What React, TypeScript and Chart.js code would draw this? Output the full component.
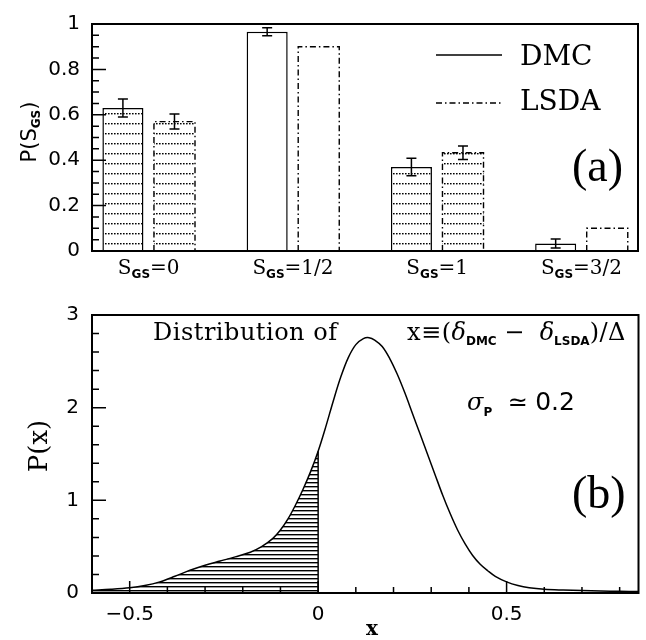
import React, { useEffect, useRef } from 'react';
import { Chart, registerables } from 'chart.js';

Chart.register(...registerables);

// ---------- Panel (a) data ----------
const SPIN_LABELS = ['0', '1/2', '1', '3/2'];
const SPIN_X = [0, 1, 2, 3];
const DMC_P = [0.63, 0.966, 0.37, 0.033];
const DMC_ERR = [0.04, 0.018, 0.039, 0.02];
const LSDA_P = [0.57, 0.9, 0.433, 0.1];
const LSDA_ERR: (number | null)[] = [0.033, null, 0.03, null];
const HATCHED = [true, false, true, false];
const A_Y_TICKS = [0, 0.2, 0.4, 0.6, 0.8, 1];
const A_Y_MINOR = [0.05, 0.1, 0.15, 0.25, 0.3, 0.35, 0.45, 0.5, 0.55, 0.65, 0.7, 0.75, 0.85, 0.9, 0.95];

// ---------- Panel (b) data ----------
const DIST_X = [-0.6, -0.55, -0.5, -0.46, -0.42, -0.38, -0.34, -0.3, -0.26, -0.22, -0.18, -0.15, -0.12, -0.1, -0.08, -0.06, -0.04, -0.02, 0, 0.02, 0.04, 0.06, 0.08, 0.1, 0.12, 0.135, 0.15, 0.17, 0.19, 0.21, 0.23, 0.25, 0.27, 0.29, 0.31, 0.33, 0.35, 0.37, 0.39, 0.41, 0.43, 0.45, 0.47, 0.5, 0.53, 0.56, 0.6, 0.65, 0.7, 0.75, 0.8, 0.85];
const DIST_Y = [0.03, 0.04, 0.056, 0.08, 0.12, 0.18, 0.245, 0.3, 0.345, 0.39, 0.44, 0.5, 0.59, 0.68, 0.8, 0.95, 1.12, 1.31, 1.53, 1.79, 2.07, 2.33, 2.54, 2.68, 2.745, 2.755, 2.73, 2.66, 2.53, 2.36, 2.16, 1.94, 1.72, 1.5, 1.28, 1.06, 0.86, 0.68, 0.53, 0.405, 0.31, 0.24, 0.18, 0.12, 0.08, 0.056, 0.04, 0.032, 0.027, 0.022, 0.018, 0.015];
const B_X_TICKS = [-0.5, 0, 0.5];
const B_X_MINOR = [-0.6, -0.4, -0.3, -0.2, -0.1, 0.1, 0.2, 0.3, 0.4, 0.6, 0.7, 0.8];
const B_Y_TICKS = [0, 1, 2, 3];
const B_Y_MINOR = [0.2, 0.4, 0.6, 0.8, 1.2, 1.4, 1.6, 1.8, 2.2, 2.4, 2.6, 2.8];

const SERIF = 'DejaVu Serif';
const SANS = 'DejaVu Sans';
const SUB = `bold 12px ${SANS}`;

type Part = { t: string; f: string; dy?: number; ls?: string };

function drawRich(ctx: CanvasRenderingContext2D, parts: Part[], x: number, y: number, align: 'left' | 'center' | 'right') {
  ctx.save();
  ctx.textBaseline = 'alphabetic';
  ctx.textAlign = 'left';
  ctx.fillStyle = '#000';
  const widths = parts.map((p) => {
    ctx.font = p.f;
    (ctx as any).letterSpacing = p.ls || '0px';
    return ctx.measureText(p.t).width;
  });
  const total = widths.reduce((a, b) => a + b, 0);
  let cx = align === 'left' ? x : align === 'center' ? x - total / 2 : x - total;
  parts.forEach((p, i) => {
    ctx.font = p.f;
    (ctx as any).letterSpacing = p.ls || '0px';
    ctx.fillText(p.t, cx, y + (p.dy || 0));
    cx += widths[i];
  });
  ctx.restore();
}

function makeDotPattern(): CanvasPattern | string {
  const c = document.createElement('canvas');
  c.width = 3;
  c.height = 10;
  const g = c.getContext('2d')!;
  g.fillStyle = '#fff';
  g.fillRect(0, 0, 3, 10);
  g.fillStyle = '#000';
  g.fillRect(0, 3, 1.6, 1.4);
  return g.createPattern(c, 'repeat') || '#fff';
}

function makeLinePattern(): CanvasPattern | string {
  const c = document.createElement('canvas');
  c.width = 4;
  c.height = 4;
  const g = c.getContext('2d')!;
  g.fillStyle = '#000';
  g.fillRect(0, 0, 4, 1.4);
  return g.createPattern(c, 'repeat') || '#000';
}

const DASHDOT = [6, 3, 1.5, 3];

const panelAPlugin = {
  id: 'panelA',
  afterDatasetsDraw(chart: any) {
    const ctx: CanvasRenderingContext2D = chart.ctx;
    const ys = chart.scales.y;
    ctx.save();
    ctx.strokeStyle = '#000';
    ctx.lineWidth = 1.4;
    ctx.setLineDash(DASHDOT);
    chart.getDatasetMeta(1).data.forEach((el: any) => {
      const p = el.getProps(['x', 'y', 'base', 'width'], true);
      const l = p.x - p.width / 2;
      const r = p.x + p.width / 2;
      ctx.beginPath();
      ctx.moveTo(l, p.base);
      ctx.lineTo(l, p.y);
      ctx.lineTo(r, p.y);
      ctx.lineTo(r, p.base);
      ctx.stroke();
    });
    ctx.setLineDash([]);
    ctx.lineWidth = 1.5;
    const sets: [number, number[], (number | null)[]][] = [
      [0, DMC_P, DMC_ERR],
      [1, LSDA_P, LSDA_ERR],
    ];
    sets.forEach(([di, vals, errs]) => {
      chart.getDatasetMeta(di).data.forEach((el: any, i: number) => {
        const e = errs[i];
        if (e == null) return;
        const cx = el.getProps(['x'], true).x;
        const yt = ys.getPixelForValue(vals[i] + e);
        const yb = ys.getPixelForValue(vals[i] - e);
        ctx.beginPath();
        ctx.moveTo(cx, yt);
        ctx.lineTo(cx, yb);
        ctx.moveTo(cx - 5, yt);
        ctx.lineTo(cx + 5, yt);
        ctx.moveTo(cx - 5, yb);
        ctx.lineTo(cx + 5, yb);
        ctx.stroke();
      });
    });
    ctx.restore();
  },
  afterDraw(chart: any) {
    const ctx: CanvasRenderingContext2D = chart.ctx;
    const { left, right, top, bottom } = chart.chartArea;
    const ys = chart.scales.y;
    const xs = chart.scales.x;
    ctx.save();
    ctx.strokeStyle = '#000';
    ctx.lineWidth = 2;
    ctx.strokeRect(left, top, right - left, bottom - top);
    ctx.lineWidth = 1.5;
    ctx.beginPath();
    A_Y_TICKS.forEach((v) => {
      const py = ys.getPixelForValue(v);
      ctx.moveTo(left, py);
      ctx.lineTo(left + 14, py);
    });
    A_Y_MINOR.forEach((v) => {
      const py = ys.getPixelForValue(v);
      ctx.moveTo(left, py);
      ctx.lineTo(left + 7, py);
    });
    ctx.stroke();
    // legend
    ctx.beginPath();
    ctx.moveTo(436, 55);
    ctx.lineTo(502, 55);
    ctx.stroke();
    ctx.setLineDash(DASHDOT);
    ctx.lineWidth = 1.3;
    ctx.beginPath();
    ctx.moveTo(436, 103);
    ctx.lineTo(502, 103);
    ctx.stroke();
    ctx.setLineDash([]);
    ctx.restore();
    drawRich(ctx, [{ t: 'DMC', f: `28px ${SERIF}` }], 520, 65, 'left');
    drawRich(ctx, [{ t: 'LSDA', f: `28px ${SERIF}` }], 520, 110, 'left');
    drawRich(ctx, [{ t: '(a)', f: `46px 'Liberation Serif'` }], 572, 181, 'left');
    // x category labels
    SPIN_X.forEach((v, i) => {
      const px = xs.getPixelForValue(v);
      drawRich(
        ctx,
        [
          { t: 'S', f: `20px ${SERIF}` },
          { t: 'GS', f: SUB, dy: 4 },
          { t: '=' + SPIN_LABELS[i], f: `20px ${SERIF}` },
        ],
        px,
        274,
        'center'
      );
    });
    // y title
    ctx.save();
    ctx.translate(36, 132);
    ctx.rotate(-Math.PI / 2);
    drawRich(
      ctx,
      [
        { t: 'P(S', f: `21px ${SANS}` },
        { t: 'GS', f: `bold 12px ${SANS}`, dy: 4 },
        { t: ')', f: `21px ${SANS}` },
      ],
      0,
      0,
      'center'
    );
    ctx.restore();
  },
};

const OY = 290;

const panelBPlugin = {
  id: 'panelB',
  afterDraw(chart: any) {
    const ctx: CanvasRenderingContext2D = chart.ctx;
    const { left, right, top, bottom } = chart.chartArea;
    const ys = chart.scales.y;
    const xs = chart.scales.x;
    ctx.save();
    ctx.strokeStyle = '#000';
    ctx.lineWidth = 2;
    ctx.strokeRect(left, top, right - left, bottom - top);
    ctx.lineWidth = 1.5;
    ctx.beginPath();
    B_Y_TICKS.forEach((v) => {
      const py = ys.getPixelForValue(v);
      ctx.moveTo(left, py);
      ctx.lineTo(left + 14, py);
    });
    B_Y_MINOR.forEach((v) => {
      const py = ys.getPixelForValue(v);
      ctx.moveTo(left, py);
      ctx.lineTo(left + 7, py);
    });
    B_X_TICKS.forEach((v) => {
      const px = xs.getPixelForValue(v);
      ctx.moveTo(px, bottom);
      ctx.lineTo(px, bottom - 12);
    });
    B_X_MINOR.forEach((v) => {
      const px = xs.getPixelForValue(v);
      ctx.moveTo(px, bottom);
      ctx.lineTo(px, bottom - 6);
    });
    ctx.stroke();
    ctx.restore();

    const main = `24px ${SERIF}`;
    const ital = `italic 24px ${SERIF}`;
    drawRich(ctx, [{ t: 'Distribution of', f: main, ls: '0.5px' }], 153, 340 - OY, 'left');
    drawRich(
      ctx,
      [
        { t: 'x≡(', f: main, ls: '0.5px' },
        { t: 'δ', f: ital },
        { t: 'DMC', f: SUB, dy: 5 },
        { t: ' −  ', f: main },
        { t: 'δ', f: ital },
        { t: 'LSDA', f: SUB, dy: 5 },
        { t: ')/Δ', f: main, ls: '0.5px' },
      ],
      407,
      340 - OY,
      'left'
    );
    drawRich(
      ctx,
      [
        { t: 'σ', f: ital },
        { t: 'P', f: SUB, dy: 6 },
        { t: '  ≃ ', f: `24px ${SANS}` },
        { t: '0.2', f: `25px ${SANS}` },
      ],
      467,
      410 - OY,
      'left'
    );
    drawRich(ctx, [{ t: '(b)', f: `46px 'Liberation Serif'` }], 572, 508 - OY, 'left');
    drawRich(ctx, [{ t: 'x', f: `bold 20px ${SERIF}` }], 372, 635 - OY, 'center');
    ctx.save();
    ctx.translate(47, 446 - OY);
    ctx.rotate(-Math.PI / 2);
    drawRich(ctx, [{ t: 'P(x)', f: `26px ${SERIF}` }], 0, 0, 'center');
    ctx.restore();
  },
};

const tickFont = { family: SANS, size: 20 };

function fmt(v: number): string {
  return v < 0 ? '−' + String(Math.abs(v)) : String(v);
}

export default function App() {
  const refA = useRef<HTMLCanvasElement>(null);
  const refB = useRef<HTMLCanvasElement>(null);

  useEffect(() => {
    const dots = makeDotPattern();
    const lines = makeLinePattern();

    const chartA = new Chart(refA.current!, {
      type: 'bar',
      data: {
        datasets: [
          {
            label: 'DMC',
            data: SPIN_X.map((x, i) => ({ x, y: DMC_P[i] })),
            backgroundColor: HATCHED.map((h) => (h ? dots : '#fff')) as any,
            borderColor: '#000',
            borderWidth: 1.5,
            borderSkipped: 'start',
            categoryPercentage: 0.715,
            barPercentage: 0.796,
          } as any,
          {
            label: 'LSDA',
            data: SPIN_X.map((x, i) => ({ x, y: LSDA_P[i] })),
            backgroundColor: HATCHED.map((h) => (h ? dots : '#fff')) as any,
            borderWidth: 0,
            categoryPercentage: 0.715,
            barPercentage: 0.796,
          } as any,
        ],
      },
      options: {
        responsive: false,
        animation: false,
        events: [],
        layout: { padding: { top: 16, right: 8, left: 0, bottom: 0 } },
        plugins: { legend: { display: false }, tooltip: { enabled: false } },
        scales: {
          x: {
            type: 'linear',
            min: -0.393,
            max: 3.392,
            offset: false,
            grid: { display: false, drawTicks: false },
            border: { display: false },
            afterBuildTicks: (s: any) => {
              s.ticks = SPIN_X.map((v) => ({ value: v }));
            },
            ticks: { display: false },
            afterFit: (s: any) => {
              s.height = 39;
            },
          },
          y: {
            min: 0,
            max: 1,
            grid: { display: false, drawTicks: false },
            border: { display: false },
            afterBuildTicks: (s: any) => {
              s.ticks = A_Y_TICKS.map((v) => ({ value: v }));
            },
            ticks: { color: '#000', font: tickFont, padding: 12, callback: (v: any) => fmt(Number(v)) },
            afterFit: (s: any) => {
              s.width = 92;
            },
          },
        },
      } as any,
      plugins: [panelAPlugin],
    });

    const curve = DIST_X.map((x, i) => ({ x, y: DIST_Y[i] }));
    const hatch = curve.filter((p) => p.x <= 0);
    const y0 = DIST_Y[DIST_X.indexOf(0)];

    const chartB = new Chart(refB.current!, {
      type: 'line',
      data: {
        datasets: [
          {
            data: hatch,
            fill: 'origin',
            backgroundColor: lines as any,
            borderColor: 'rgba(0,0,0,0)',
            borderWidth: 0,
            pointRadius: 0,
            tension: 0.35,
          },
          {
            data: curve,
            fill: false,
            borderColor: '#000',
            borderWidth: 1.5,
            pointRadius: 0,
            tension: 0.35,
          },
          {
            data: [
              { x: 0, y: 0 },
              { x: 0, y: y0 },
            ],
            fill: false,
            borderColor: '#000',
            borderWidth: 1.5,
            pointRadius: 0,
          },
        ],
      },
      options: {
        responsive: false,
        animation: false,
        events: [],
        layout: { padding: { top: 20, right: 7.5, left: 0, bottom: 0 } },
        plugins: { legend: { display: false }, tooltip: { enabled: false } },
        scales: {
          x: {
            type: 'linear',
            min: -0.6,
            max: 0.85,
            grid: { display: false, drawTicks: false },
            border: { display: false },
            afterBuildTicks: (s: any) => {
              s.ticks = B_X_TICKS.map((v) => ({ value: v }));
            },
            ticks: { color: '#000', font: tickFont, padding: 10, maxRotation: 0, callback: (v: any) => fmt(Number(v)) },
            afterFit: (s: any) => {
              s.height = 47;
            },
          },
          y: {
            min: 0,
            max: 3,
            grid: { display: false, drawTicks: false },
            border: { display: false },
            afterBuildTicks: (s: any) => {
              s.ticks = B_Y_TICKS.map((v) => ({ value: v }));
            },
            ticks: { color: '#000', font: tickFont, padding: 13, callback: (v: any) => fmt(Number(v)) },
            afterFit: (s: any) => {
              s.width = 92;
            },
          },
        },
      } as any,
      plugins: [panelBPlugin],
    });

    return () => {
      chartA.destroy();
      chartB.destroy();
    };
  }, []);

  return (
    <div style={{ position: 'absolute', left: 0, top: 0, width: 646, height: 640, background: '#fff' }}>
      <canvas ref={refA} width={646} height={290} style={{ position: 'absolute', left: 0, top: 0, width: 646, height: 290 }} />
      <canvas ref={refB} width={646} height={350} style={{ position: 'absolute', left: 0, top: 290, width: 646, height: 350 }} />
    </div>
  );
}
